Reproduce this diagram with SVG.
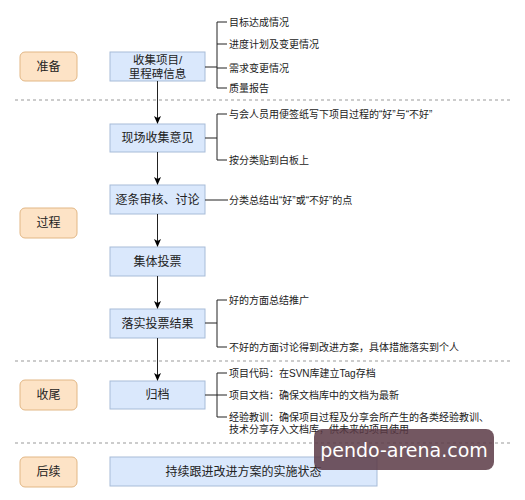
<svg xmlns="http://www.w3.org/2000/svg" width="525" height="500" viewBox="0 0 525 500">
<defs>
<marker id="arr" markerWidth="8" markerHeight="8" refX="7" refY="4" orient="auto" markerUnits="userSpaceOnUse">
<path d="M0,0.5 L8,4 L0,7.5 L2,4 Z" fill="#000"/>
</marker>
<style>
.stage{fill:#fde3c6;stroke:#e2b785;stroke-width:1}
.box{fill:#dae8fc;stroke:#a7bcd8;stroke-width:1}
.t{font-family:"Liberation Sans","Noto Sans CJK SC",sans-serif;font-size:12px;fill:#222;text-anchor:middle;dominant-baseline:central}
.s{font-family:"Liberation Sans","Noto Sans CJK SC",sans-serif;font-size:10px;fill:#222;dominant-baseline:central}
.ln{fill:none;stroke:#222;stroke-width:1}
.dash{stroke:#999;stroke-width:1;stroke-dasharray:3,3}
</style>
</defs>
<rect width="525" height="500" fill="#ffffff"/>
<g id="separators">
<line class="dash" x1="15" y1="100" x2="512" y2="100"/>
<line class="dash" x1="15" y1="361" x2="512" y2="361"/>
<line class="dash" x1="15" y1="443" x2="512" y2="443"/>
</g>
<g id="stage-prep"><rect class="stage" x="20" y="52" width="57" height="29" rx="5"/><text class="t" x="48.5" y="66.5">准备</text></g>
<g id="stage-process"><rect class="stage" x="20" y="208" width="57" height="30" rx="5"/><text class="t" x="48.5" y="223">过程</text></g>
<g id="stage-close"><rect class="stage" x="20" y="380" width="57" height="30" rx="5"/><text class="t" x="48.5" y="395">收尾</text></g>
<g id="stage-follow"><rect class="stage" x="20" y="457" width="57" height="30" rx="5"/><text class="t" x="48.5" y="472">后续</text></g>

<g id="n1"><rect class="box" x="110" y="52" width="95" height="29"/><text class="t" x="157.5" y="59.5" style="font-size:11.5px">收集项目/</text><text class="t" x="157.5" y="74" style="font-size:11.5px">里程碑信息</text></g>
<g id="n2"><rect class="box" x="110" y="124" width="95" height="28"/><text class="t" x="157.5" y="138">现场收集意见</text></g>
<g id="n3"><rect class="box" x="110" y="185" width="95" height="29"/><text class="t" x="157.5" y="199.5">逐条审核、讨论</text></g>
<g id="n4"><rect class="box" x="110" y="247" width="95" height="29"/><text class="t" x="157.5" y="261.5">集体投票</text></g>
<g id="n5"><rect class="box" x="110" y="309" width="95" height="29"/><text class="t" x="157.5" y="323.5">落实投票结果</text></g>
<g id="n6"><rect class="box" x="110" y="381" width="95" height="28"/><text class="t" x="157.5" y="395">归档</text></g>
<g id="n7"><rect class="box" x="110" y="457" width="267" height="29"/><text class="t" x="243.5" y="471.5">持续跟进改进方案的实施状态</text></g>

<g id="connectors">
<line class="ln" x1="157.5" y1="81" x2="157.5" y2="123" marker-end="url(#arr)"/>
<line class="ln" x1="157.5" y1="152" x2="157.5" y2="184" marker-end="url(#arr)"/>
<line class="ln" x1="157.5" y1="214" x2="157.5" y2="246" marker-end="url(#arr)"/>
<line class="ln" x1="157.5" y1="276" x2="157.5" y2="308" marker-end="url(#arr)"/>
<line class="ln" x1="157.5" y1="338" x2="157.5" y2="380" marker-end="url(#arr)"/>
<path class="ln" d="M205,67 H217 M227,22 H217 V88 H227 M217,44 H227 M217,68 H227"/>
<path class="ln" d="M205,138 H217 M227,114 H217 V160 H227"/>
<path class="ln" d="M205,200 H228"/>
<path class="ln" d="M205,323 H217 M227,300 H217 V347 H227"/>
<path class="ln" d="M205,395 H217 M227,373 H217 V417 H227 M217,395 H227"/>
</g>

<g id="notes">
<text class="s" x="229" y="22">目标达成情况</text>
<text class="s" x="229" y="44">进度计划及变更情况</text>
<text class="s" x="229" y="68">需求变更情况</text>
<text class="s" x="229" y="88">质量报告</text>
<text class="s" x="229" y="114">与会人员用便签纸写下项目过程的“好”与“不好”</text>
<text class="s" x="229" y="160">按分类贴到白板上</text>
<text class="s" x="229" y="200">分类总结出“好”或“不好”的点</text>
<text class="s" x="229" y="300">好的方面总结推广</text>
<text class="s" x="229" y="347">不好的方面讨论得到改进方案，具体措施落实到个人</text>
<text class="s" x="229" y="373">项目代码：在SVN库建立Tag存档</text>
<text class="s" x="229" y="395">项目文档：确保文档库中的文档为最新</text>
<text class="s" x="229" y="417">经验教训：确保项目过程及分享会所产生的各类经验教训、</text>
<text class="s" x="229" y="429">技术分享存入文档库，供未来的项目使用</text>
</g>

<g id="watermark">
<rect x="314" y="429" width="180" height="41" rx="8" fill="#5a3a45" fill-opacity="0.85"/>
<text x="404" y="450" font-family="DejaVu Sans, sans-serif" font-size="19" fill="#ffffff" text-anchor="middle" dominant-baseline="central">pendo-arena.com</text>
</g>
</svg>
